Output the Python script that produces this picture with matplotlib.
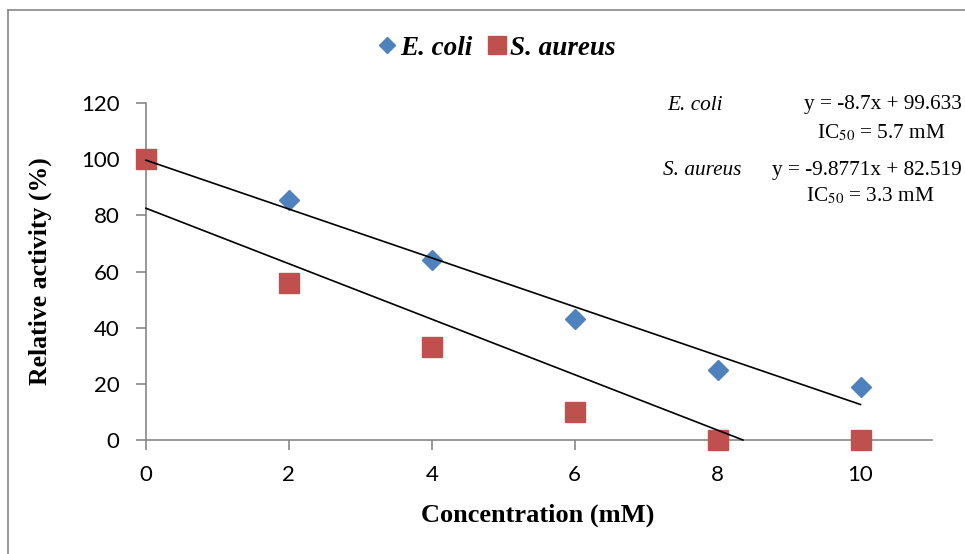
import matplotlib
matplotlib.use("Agg")
import matplotlib.pyplot as plt
from matplotlib.lines import Line2D
import numpy as np

conc = [0, 2, 4, 6, 8, 10]
ecoli = [100, 85.5, 64, 43, 25, 19]
saureus = [100, 56, 33, 10, 0, 0]
ecoli_fit = (-8.7, 99.633)
saureus_fit = (-9.8771, 82.519)
yticks = [0, 20, 40, 60, 80, 100, 120]
xticks = [0, 2, 4, 6, 8, 10]

plt.rcParams['mathtext.fontset'] = 'stix'
W, H = 965, 554
fig = plt.figure(figsize=(W / 100, H / 100), dpi=100)
ax = fig.add_axes([146 / W, 1 - 440 / H, (932 - 146) / W, (440 - 103) / H])

blue = '#4F81BD'
red = '#C0504D'
gray = '#868686'

ax.plot(conc, ecoli, 'D', color=blue, ms=10.2, mec=blue, zorder=3, label='E. coli')
ax.plot(conc, saureus, 's', color=red, ms=14, mec=red, zorder=4, label='S. aureus')

x1 = np.array([0, 10])
ax.plot(x1, ecoli_fit[0] * x1 + ecoli_fit[1], color='black', lw=1.2, zorder=5)
x0 = -saureus_fit[1] / saureus_fit[0]
x2 = np.array([0, x0])
ax.plot(x2, saureus_fit[0] * x2 + saureus_fit[1], color='black', lw=1.2, zorder=5)

ax.set_xlim(0, 11)
ax.set_ylim(0, 120)
ax.set_xticks(xticks)
ax.set_yticks(yticks)
for s in ['top', 'right']:
    ax.spines[s].set_visible(False)
for s in ['left', 'bottom']:
    ax.spines[s].set_color(gray)
    ax.spines[s].set_linewidth(1.2)
ax.tick_params(axis='both', direction='out', length=7, width=1.2, color=gray,
               labelsize=16)
ax.tick_params(axis='x', pad=11)
ax.tick_params(axis='y', pad=12)
for lab in ax.get_xticklabels() + ax.get_yticklabels():
    lab.set_fontfamily('Lato')
for l in ax.lines:
    l.set_clip_on(False)

ax.set_xlabel('Concentration (mM)', fontfamily='Liberation Serif', fontweight='bold',
              fontsize=19)
ax.xaxis.set_label_coords((538 - 146) / 786, -(515 - 440) / 337)
ax.set_ylabel('Relative activity (%)', fontfamily='Liberation Serif', fontweight='bold',
              fontsize=18.5)
ax.yaxis.set_label_coords(-(146 - 40) / 786, (440 - 271) / 337)
ax.yaxis.label.set_va('center')
ax.xaxis.label.set_va('center')

h1 = Line2D([], [], marker='D', ls='none', color=blue, ms=8.2)
h2 = Line2D([], [], marker='s', ls='none', color=red, ms=13)
leg = fig.legend(handles=[h1, h2], labels=['E. coli', 'S. aureus'], ncol=2,
                 loc='center', bbox_to_anchor=(493 / W, 1 - 48 / H), frameon=False,
                 handletextpad=-0.1, columnspacing=0.3, handlelength=1.2,
                 prop={'family': 'Liberation Serif', 'weight': 'bold', 'style': 'italic', 'size': 19.5})

def ftext(x, y, s, **kw):
    fig.text(x / W, 1 - y / H, s, fontfamily='Liberation Serif', fontsize=15.3, va='center', **kw)

ftext(667, 105, 'E. coli', style='italic')
ftext(962, 105, 'y = -8.7x + 99.633', ha='right')
ftext(881, 133, r'IC$_{50}$ = 5.7 mM', ha='center')
ftext(663, 171, 'S. aureus', style='italic')
ftext(962, 171, 'y = -9.8771x + 82.519', ha='right')
ftext(870, 196, r'IC$_{50}$ = 3.3 mM', ha='center')

fig.add_artist(Line2D([8 / W, 8 / W], [1 - 10 / H, 0], color=gray, lw=1.2))
fig.add_artist(Line2D([8 / W, 1], [1 - 10 / H, 1 - 10 / H], color=gray, lw=1.2))

fig.savefig('out.png', dpi=100)
